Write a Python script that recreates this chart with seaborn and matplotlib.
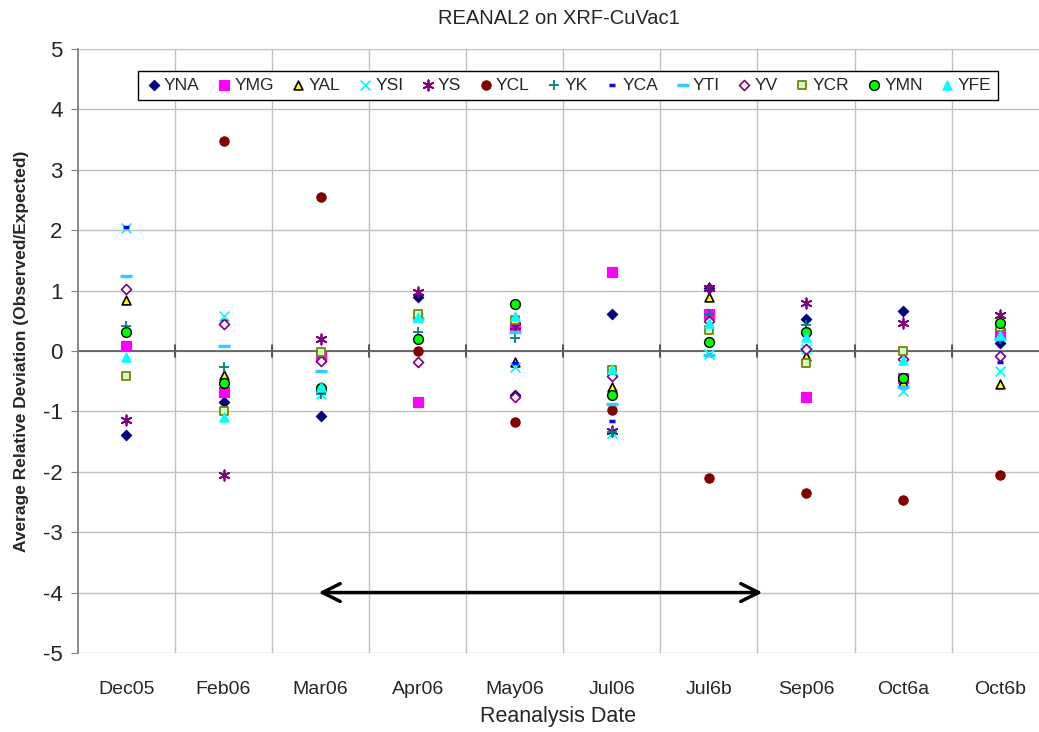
import numpy as np
import pandas as pd
import matplotlib
matplotlib.use('Agg')
import matplotlib.pyplot as plt
import seaborn as sns

nan = np.nan
dates = ['Dec05', 'Feb06', 'Mar06', 'Apr06', 'May06', 'Jul06', 'Jul6b', 'Sep06', 'Oct6a', 'Oct6b']

YNA = [-1.39, -0.84, -1.07, 0.90, -0.73, 0.61, 1.05, 0.53, 0.66, 0.14]
YMG = [0.09, -0.68, -0.10, -0.85, 0.40, 1.31, 0.61, -0.77, -0.45, 0.30]
YAL = [0.84, -0.40, -0.59, 0.60, -0.18, -0.59, 0.89, -0.08, -0.52, -0.55]
YSI = [2.03, 0.58, -0.72, 0.55, -0.26, -1.36, -0.05, 0.03, -0.66, -0.33]
YS = [-1.15, -2.06, 0.20, 0.98, 0.42, -1.33, 1.05, 0.79, 0.47, 0.60]
YCL = [nan, 3.48, 2.55, 0.00, -1.18, -0.98, -2.10, -2.35, -2.47, -2.05]
YK = [0.42, -0.26, -0.71, 0.32, 0.22, -1.34, 0.61, 0.43, -0.45, 0.20]
YCA = [2.05, 0.50, -0.65, 0.25, -0.20, -1.16, -0.07, 0.03, -0.59, -0.18]
YTI = [1.24, 0.08, -0.33, 0.55, 0.32, -0.87, -0.07, 0.03, -0.59, 0.20]
YV = [1.03, 0.45, -0.17, -0.19, -0.76, -0.41, 0.50, 0.03, -0.13, -0.08]
YCR = [-0.41, -0.99, -0.02, 0.62, 0.51, -0.31, 0.34, -0.20, 0.00, 0.40]
YMN = [0.32, -0.53, -0.62, 0.20, 0.77, -0.73, 0.15, 0.31, -0.44, 0.47]
YFE = [-0.10, -1.10, -0.59, 0.56, 0.58, -0.29, 0.46, 0.24, -0.15, 0.27]

series = {'YNA': YNA, 'YMG': YMG, 'YAL': YAL, 'YSI': YSI, 'YS': YS, 'YCL': YCL,
          'YK': YK, 'YCA': YCA, 'YTI': YTI, 'YV': YV, 'YCR': YCR, 'YMN': YMN, 'YFE': YFE}

# marker, face, edge, size, linewidth
styles = {
    'YNA': ('D', '#000080', '#000080', 28, 0.8),
    'YMG': ('s', '#FF00FF', '#FF00FF', 45, 0.8),
    'YAL': ('^', '#FFFF00', '#000000', 40, 1.2),
    'YSI': ('x', '#00FFFF', '#00FFFF', 50, 1.3),
    'YS': ((6, 2, 0), '#800080', '#800080', 55, 1.3),
    'YCL': ('o', '#800000', '#800000', 45, 0.8),
    'YK': ('+', '#008080', '#008080', 60, 1.3),
    'YCA': ('_', '#0000FF', '#0000FF', 25, 2.5),
    'YTI': ('_', '#33CCFF', '#33CCFF', 70, 2.5),
    'YV': ('D', '#FFFFFF', '#800080', 26, 1.2),
    'YCR': ('s', '#CCFFCC', '#808000', 40, 1.3),
    'YMN': ('o', '#00FF00', '#000000', 50, 1.0),
    'YFE': ('^', '#00FFFF', '#00FFFF', 45, 0.8),
}

sns.set_style('white')
plt.rcParams['font.family'] = ['Liberation Sans', 'DejaVu Sans']
plt.rcParams['axes.unicode_minus'] = False

fig = plt.figure(figsize=(10.39, 7.32), dpi=100)
ax = fig.add_axes([0.075, 0.108, 0.925, 0.825])

xpos = np.arange(len(dates))
for name, vals in series.items():
    m, fc, ec, s, lw = styles[name]
    df = pd.DataFrame({'x': xpos, 'y': vals})
    if m in ('x', '+', '_') or isinstance(m, tuple):
        sns.scatterplot(data=df, x='x', y='y', ax=ax, marker=m, color=fc, s=s,
                        linewidth=lw, label=name, zorder=3)
    else:
        sns.scatterplot(data=df, x='x', y='y', ax=ax, marker=m, color=fc, edgecolor=ec,
                        s=s, linewidth=lw, label=name, zorder=3)

ax.set_xlim(-0.5, 9.4)
ax.set_ylim(-5, 5)
ax.set_yticks(range(-5, 6))
ax.set_xticks(xpos)
ax.set_xticklabels(dates)
ax.tick_params(axis='x', labelsize=14, length=0, pad=20)
ax.tick_params(axis='y', labelsize=16, length=5, color='#808080', direction='out',
               left=True, pad=6)

for yv in range(-5, 6):
    ax.axhline(yv, color='#C0C0C0', lw=1, zorder=1)
for xb in np.arange(0.5, 9.5, 1.0):
    ax.axvline(xb, color='#C0C0C0', lw=1, zorder=1)
    ax.plot([xb, xb], [-0.1, 0.1], color='#404040', lw=1.2, zorder=2)
ax.axhline(0, color='#606060', lw=1.3, zorder=2)

for side in ['top', 'right', 'bottom']:
    ax.spines[side].set_visible(False)
ax.spines['left'].set_color('#808080')
ax.spines['left'].set_linewidth(1.3)

ax.annotate('', xy=(1.95, -4), xytext=(6.58, -4),
            arrowprops=dict(arrowstyle='<->', color='black', lw=2.5,
                            mutation_scale=32))

ax.set_title('REANAL2 on XRF-CuVac1', fontsize=14.5, pad=18)
ax.set_xlabel('Reanalysis Date', fontsize=15.5, labelpad=6)
ax.set_ylabel('Average Relative Deviation (Observed/Expected)', fontsize=12.5,
              fontweight='bold', labelpad=10)

leg = ax.legend(ncol=13, loc='lower left', bbox_to_anchor=(0.0624, 0.916, 0.895, 0.066),
                mode='expand', fontsize=12.5, handletextpad=0.1, columnspacing=0.5,
                handlelength=1.0, borderaxespad=0, fancybox=False, framealpha=1,
                edgecolor='black', markerscale=1.0)
leg.get_frame().set_linewidth(1.0)

fig.savefig('out.png', dpi=100)
